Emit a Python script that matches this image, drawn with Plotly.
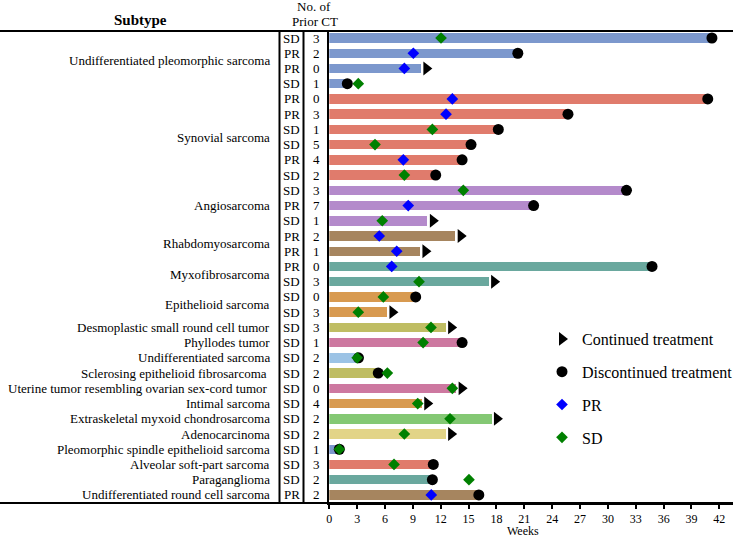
import plotly.graph_objects as go

# ---------------- data ----------------
subtypes = [
    "Undifferentiated pleomorphic sarcoma"] * 4 + ["Synovial sarcoma"] * 6 + [
    "Angiosarcoma"] * 3 + ["Rhabdomyosarcoma"] * 2 + ["Myxofibrosarcoma"] * 2 + [
    "Epithelioid sarcoma"] * 2 + [
    "Desmoplastic small round cell tumor",
    "Phyllodes tumor",
    "Undifferentiated sarcoma",
    "Sclerosing epithelioid fibrosarcoma\u00a0",
    "Uterine tumor resembling ovarian sex-cord tumor\u00a0",
    "Intimal sarcoma",
    "Extraskeletal myxoid chondrosarcoma",
    "Adenocarcinoma",
    "Pleomorphic spindle epithelioid sarcoma",
    "Alveolar soft-part sarcoma",
    "Paraganglioma",
    "Undifferentiated round cell sarcoma",
]
response = ["SD", "PR", "PR", "SD", "PR", "PR", "SD", "SD", "PR", "SD",
            "SD", "PR", "SD", "PR", "PR", "PR", "SD", "SD", "SD", "SD",
            "SD", "SD", "SD", "SD", "SD", "SD", "SD", "SD", "SD", "SD", "PR"]
prior_ct = [3, 2, 0, 1, 0, 3, 1, 5, 4, 2,
            3, 7, 1, 2, 1, 0, 3, 0, 3, 3,
            1, 2, 2, 0, 4, 2, 2, 1, 3, 2, 2]
weeks = [41.2, 20.3, 9.9, 1.94, 40.75, 25.7, 18.2, 15.26, 14.3, 11.46,
         32.0, 22.0, 10.6, 13.6, 9.8, 34.75, 17.2, 9.3, 6.25, 12.57,
         14.3, 3.14, 5.27, 13.7, 10.0, 17.5, 12.57, 1.08, 11.2, 11.1, 16.1]
status = ["D", "D", "C", "D", "D", "D", "D", "D", "D", "D",
          "D", "D", "C", "C", "C", "D", "C", "D", "C", "C",
          "D", "D", "D", "C", "C", "C", "C", "D", "D", "D", "D"]
resp_week = [12.03, 9.05, 8.08, 3.12, 13.25, 12.57, 11.1, 4.92, 7.97, 8.08,
             14.43, 8.5, 5.7, 5.38, 7.26, 6.72, 9.66, 5.82, 3.12, 10.95,
             10.1, 3.0, 6.25, 13.25, 9.52, 13.0, 8.08, 1.08, 6.97, 15.04, 10.98]
bar_colors = (["#7c98cd"] * 4 + ["#e07b6c"] * 6 + ["#b48acb"] * 3 + ["#a6855f"] * 2 +
              ["#6aa89e"] * 2 + ["#d89a50"] * 2 +
              ["#bfbd63", "#cd78a0", "#9cc3e5", "#bfbd63", "#cd78a0", "#d89a50",
               "#84c874", "#e2d487", "#7c98cd", "#e07b6c", "#6aa89e", "#a6855f"])
x_ticks = list(range(0, 43, 3))

# ---------------- layout constants ----------------
W, H = 733, 538
FONT = "Liberation Serif"
rows = list(range(1, len(weeks) + 1))
ARROW_OFF = 0.55  # half arrow width in weeks

fig = go.Figure()

fig.add_trace(go.Bar(
    x=weeks, y=rows, orientation="h", width=0.62,
    marker=dict(color=bar_colors, line=dict(width=0)),
    showlegend=False, hoverinfo="skip"))

cont_x = [w + ARROW_OFF for w, s in zip(weeks, status) if s == "C"]
cont_y = [r for r, s in zip(rows, status) if s == "C"]
disc_x = [w for w, s in zip(weeks, status) if s == "D"]
disc_y = [r for r, s in zip(rows, status) if s == "D"]

fig.add_trace(go.Scatter(
    x=cont_x, y=cont_y, mode="markers", name="Continued treatment",
    marker=dict(symbol="triangle-right", size=12, color="black"),
    legendgroup="a"))
fig.add_trace(go.Scatter(
    x=disc_x, y=disc_y, mode="markers", name="Discontinued treatment",
    marker=dict(symbol="circle", size=11, color="black"),
    legendgroup="b"))
for lab, col, grp in [("PR", "#0000ff", "c"), ("SD", "#008000", "d")]:
    fig.add_trace(go.Scatter(
        x=[w for w, r in zip(resp_week, response) if r == lab],
        y=[y for y, r in zip(rows, response) if r == lab],
        mode="markers", name=lab,
        marker=dict(symbol="diamond", size=9, color=col),
        legendgroup=grp))

# ---------------- table text ----------------
TF = dict(family=FONT, size=13, color="black")
ann = []
i = 0
while i < len(subtypes):
    j = i
    while j + 1 < len(subtypes) and subtypes[j + 1] == subtypes[i]:
        j += 1
    ann.append(dict(x=272 / W, y=(rows[i] + rows[j]) / 2, xref="paper", yref="y",
                    text=subtypes[i], showarrow=False, xanchor="right", yanchor="middle",
                    font=TF))
    i = j + 1
for r, resp, ct in zip(rows, response, prior_ct):
    ann.append(dict(x=291.5 / W, y=r, xref="paper", yref="y", text=resp, showarrow=False,
                    xanchor="center", yanchor="middle", font=TF))
    ann.append(dict(x=316 / W, y=r, xref="paper", yref="y", text=str(ct), showarrow=False,
                    xanchor="center", yanchor="middle", font=TF))
ann.append(dict(x=140 / W, y=1 + (31 - 20) / 472, xref="paper", yref="paper",
                text="<b>Subtype</b>", showarrow=False, xanchor="center", yanchor="middle",
                font=dict(family=FONT, size=15, color="black")))
ann.append(dict(x=314 / W, y=1 + (31 - 6) / 472, xref="paper", yref="paper",
                text="No. of", showarrow=False, xanchor="center", yanchor="middle",
                font=TF))
ann.append(dict(x=315 / W, y=1 + (31 - 21) / 472, xref="paper", yref="paper",
                text="Prior CT", showarrow=False, xanchor="center", yanchor="middle",
                font=TF))
# x-axis title
ann.append(dict(x=(523 - 329.3) / (W - 329.3), y=-(531 - 503) / 472, xref="x domain",
                yref="paper", text="Weeks", showarrow=False, xanchor="center",
                yanchor="middle", font=dict(family=FONT, size=12, color="black")))

shapes = [
    dict(type="line", xref="paper", yref="paper", x0=0, x1=1, y0=1, y1=1,
         line=dict(color="black", width=2)),
    dict(type="line", xref="paper", yref="paper", x0=0, x1=1, y0=0, y1=0,
         line=dict(color="black", width=2)),
    dict(type="line", xref="paper", yref="paper", x0=279.5 / W, x1=279.5 / W, y0=0, y1=1,
         line=dict(color="black", width=2)),
    dict(type="line", xref="paper", yref="paper", x0=303.5 / W, x1=303.5 / W, y0=0, y1=1,
         line=dict(color="black", width=2)),
]

fig.update_layout(
    width=W, height=H,
    margin=dict(l=0, r=0, t=31, b=35, autoexpand=False),
    plot_bgcolor="white", paper_bgcolor="white",
    font=dict(family=FONT, size=13, color="black"),
    xaxis=dict(domain=[329.3 / W, 1], range=[0, 43.47], tickvals=x_ticks,
               ticks="outside", ticklen=4, tickwidth=1.5, tickcolor="black",
               showline=True, linewidth=2, linecolor="black", showgrid=False,
               zeroline=False, tickfont=dict(family=FONT, size=12)),
    yaxis=dict(range=[31.53, 0.54], showticklabels=False, ticks="", showgrid=False,
               zeroline=False, showline=True, linewidth=2, linecolor="black"),
    annotations=ann, shapes=shapes,
    bargap=0,
    legend=dict(x=542 / W, y=(503 - 322) / 472, xanchor="left", yanchor="top",
                font=dict(family=FONT, size=16), tracegroupgap=9,
                bgcolor="rgba(0,0,0,0)", itemsizing="trace"),
    showlegend=True,
)

fig.write_html("out.html", config={"displayModeBar": False},
               post_script="document.body.style.margin='0';")
